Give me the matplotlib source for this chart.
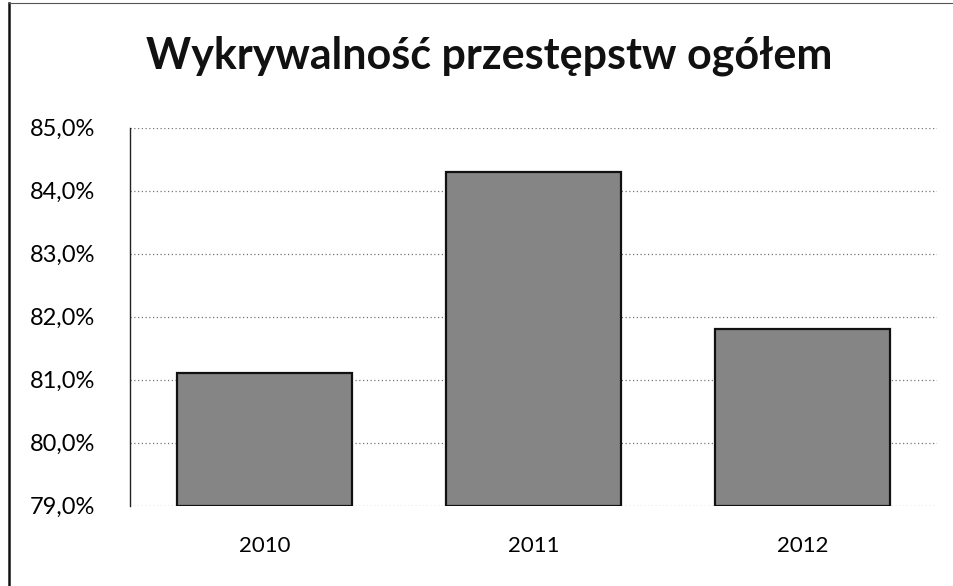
import matplotlib.pyplot as plt
from matplotlib.ticker import FuncFormatter
from matplotlib.lines import Line2D

# dane
lata = ['2010', '2011', '2012']
wykrywalnosc = [81.1, 84.3, 81.8]
ticki = [79, 80, 81, 82, 83, 84, 85]

plt.rcParams['font.family'] = ['Lato', 'DejaVu Sans']

fig = plt.figure(figsize=(9.54, 5.86), dpi=100)
ax = fig.add_axes([0.136, 0.137, 0.846, 0.645])

x = range(len(lata))
ax.bar(x, [v - 79 for v in wykrywalnosc], bottom=79, width=0.65,
       color='#858585', edgecolor='#111111', linewidth=1.6, zorder=3)

ax.set_ylim(79, 85)
ax.set_xlim(-0.5, 2.5)
ax.set_yticks(ticki)
ax.yaxis.set_major_formatter(FuncFormatter(lambda v, p: f'{v:.1f}%'.replace('.', ',')))
ax.set_xticks(list(x))
ax.set_xticklabels(lata)
ax.tick_params(axis='both', length=0)
ax.tick_params(axis='x', pad=22, labelsize=16)
ax.tick_params(axis='y', pad=25, labelsize=17)

ax.grid(axis='y', linestyle=(0, (1, 2)), color='#777777', linewidth=0.9, zorder=0)
for s in ['top', 'right', 'bottom']:
    ax.spines[s].set_visible(False)
ax.spines['left'].set_color('#222222')
ax.spines['left'].set_linewidth(1.0)

fig.text(0.513, 0.905, 'Wykrywalność przestępstw ogółem', ha='center', va='center',
         fontsize=31, fontweight='bold', color='#111111')

# ramka wykresu (lewa i górna krawędź skanu)
fig.add_artist(Line2D([0.009, 0.009], [0.0, 0.995], color='#111111', linewidth=1.8))
fig.add_artist(Line2D([0.009, 1.0], [0.995, 0.995], color='#555555', linewidth=0.8))

fig.savefig('out.png', dpi=100)
